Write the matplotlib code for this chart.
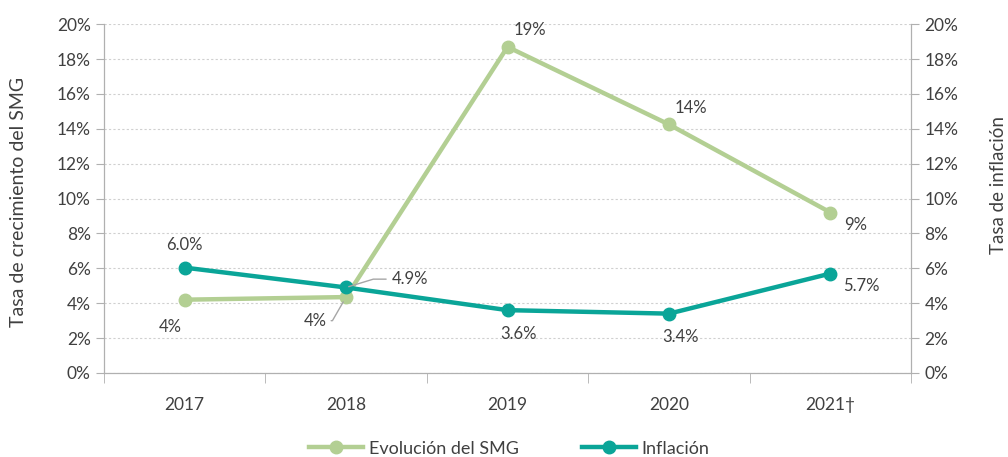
import matplotlib
matplotlib.use("Agg")
from matplotlib import pyplot as plt
from matplotlib.ticker import PercentFormatter, FixedLocator

years = ["2017", "2018", "2019", "2020", "2021\u2020"]
smg = [4.2, 4.35, 18.7, 14.25, 9.2]
smg_labels = ["4%", "4%", "19%", "14%", "9%"]
inflacion = [6.04, 4.9, 3.6, 3.4, 5.7]
inflacion_labels = ["6.0%", "4.9%", "3.6%", "3.4%", "5.7%"]

GREEN = "#b3cf93"
TEAL = "#0aa598"
TEXT = "#404040"
AXIS = "#b0b0b0"

plt.rcParams["font.family"] = ["Lato", "DejaVu Sans"]
plt.rcParams["text.color"] = TEXT

fig = plt.figure(figsize=(10.08, 4.57), dpi=100)
ax = fig.add_axes([0.103, 0.184, 0.801, 0.763])
ax2 = ax.twinx()

x = list(range(len(years)))

ax.plot(x, smg, color=GREEN, lw=3.2, marker="o", ms=9, zorder=3,
        label="Evolución del SMG")
ax2.plot(x, inflacion, color=TEAL, lw=3.2, marker="o", ms=9, zorder=3,
         label="Inflación")

for a in (ax, ax2):
    a.set_ylim(0, 20)
    a.set_yticks(range(0, 21, 2))
    a.yaxis.set_major_formatter(PercentFormatter(decimals=0))
    a.set_xlim(-0.5, len(years) - 0.5)
    a.tick_params(colors=TEXT, labelsize=12.5, length=6, color=AXIS)
    for s in a.spines.values():
        s.set_color(AXIS)
    a.spines["top"].set_visible(False)

ax.set_xticks(x)
ax.set_xticklabels(years)
ax.xaxis.set_minor_locator(FixedLocator([i - 0.5 for i in range(len(years) + 1)]))
ax.tick_params(axis="x", which="major", length=0, pad=17)
ax.tick_params(axis="x", which="minor", length=7, color=AXIS)
ax.grid(axis="y", color="#d0d0d0", ls=(0, (2, 2)), lw=0.8)
ax.set_axisbelow(True)

ax.set_ylabel("Tasa de crecimiento del SMG", fontsize=14, color=TEXT)
ax.yaxis.set_label_coords(-0.095, 0.49)
ax2.set_ylabel("Tasa de inflación", fontsize=13.5, color=TEXT)
ax2.yaxis.set_label_coords(1.097, 0.54)

# data labels, SMG
smg_offsets = [(-10, -20), None, (16, 12), (16, 12), (18, -9)]
for i, (v, t) in enumerate(zip(smg, smg_labels)):
    if smg_offsets[i] is None:
        continue
    ax.annotate(t, (i, v), xytext=smg_offsets[i], textcoords="offset points",
                ha="center", va="center", fontsize=12, color=TEXT)
ax.annotate("4%", (1, smg[1]), xytext=(-22, -17), textcoords="offset points",
            ha="center", va="center", fontsize=12, color=TEXT,
            arrowprops=dict(arrowstyle="-", color="#a6a6a6", lw=1,
                            shrinkA=1, shrinkB=4,
                            connectionstyle="angle,angleA=0,angleB=60,rad=0"))

# data labels, inflation
inf_offsets = [(0, 16), None, (8, -17), (8, -17), (22, -9)]
for i, (v, t) in enumerate(zip(inflacion, inflacion_labels)):
    if inf_offsets[i] is None:
        continue
    ax2.annotate(t, (i, v), xytext=inf_offsets[i], textcoords="offset points",
                 ha="center", va="center", fontsize=12, color=TEXT)
ax2.annotate("4.9%", (1, inflacion[1]), xytext=(46, 6), textcoords="offset points",
             ha="center", va="center", fontsize=12, color=TEXT,
             arrowprops=dict(arrowstyle="-", color="#a6a6a6", lw=1,
                             shrinkA=2, shrinkB=2,
                             connectionstyle="angle,angleA=0,angleB=17,rad=0"))

h1, l1 = ax.get_legend_handles_labels()
h2, l2 = ax2.get_legend_handles_labels()
fig.legend(h1 + h2, l1 + l2, loc="lower center", bbox_to_anchor=(0.505, -0.035),
           ncol=2, frameon=False, fontsize=13, columnspacing=3.5,
           handlelength=3, handletextpad=0.3)

fig.savefig("out.png", dpi=100)
